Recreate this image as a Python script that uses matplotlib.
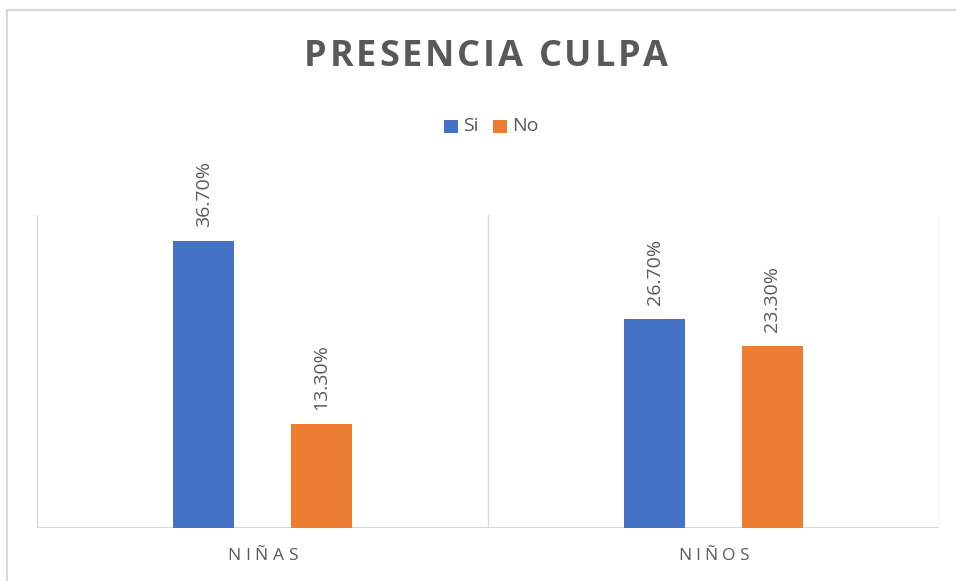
import matplotlib
matplotlib.use("Agg")
import matplotlib.pyplot as plt
from matplotlib.patches import Rectangle
from matplotlib.lines import Line2D
import numpy as np

categories = ["NIÑAS", "NIÑOS"]
series_names = ["Si", "No"]
si_values = [36.7, 26.7]
no_values = [13.3, 23.3]

BLUE = "#4472C4"
ORANGE = "#ED7D31"
GRAY_TEXT = "#595959"
GRID = "#D9D9D9"

W, H = 956, 581
plt.rcParams['font.family'] = ['Open Sans', 'DejaVu Sans']

fig = plt.figure(figsize=(W / 100, H / 100), dpi=100)
ax = fig.add_axes([37 / W, 1 - 528 / H, (939 - 37) / W, (528 - 215) / H])
renderer = fig.canvas.get_renderer()


def spaced_text(s, x_center, y_center, target_width, **kw):
    # draw text letter by letter so it can be spread out like the original
    widths = []
    for ch in s:
        if ch == " ":
            widths.append(None)
            continue
        t = fig.text(0, 0, ch, **kw)
        widths.append(t.get_window_extent(renderer).width)
        t.remove()
    space_w = np.mean([w for w in widths if w is not None]) * 0.45
    widths = [space_w if w is None else w for w in widths]
    gap = (target_width - sum(widths)) / max(len(s) - 1, 1)
    x = x_center - target_width / 2
    for ch, w in zip(s, widths):
        if ch != " ":
            fig.text(x / W, 1 - y_center / H, ch, ha="left", va="center", **kw)
        x += w + gap


x = np.arange(len(categories))
bar_w = 0.135
offset = 0.13
bars_si = ax.bar(x - offset, si_values, bar_w, color=BLUE, label=series_names[0], zorder=3)
bars_no = ax.bar(x + offset, no_values, bar_w, color=ORANGE, label=series_names[1], zorder=3)

for bars, vals in [(bars_si, si_values), (bars_no, no_values)]:
    for b, v in zip(bars, vals):
        ax.annotate(f"{v:.2f}%", (b.get_x() + b.get_width() / 2, v),
                    xytext=(0, 10), textcoords="offset points",
                    rotation=90, ha="center", va="bottom",
                    color=GRAY_TEXT, fontsize=14)

ax.set_xlim(-0.5, len(categories) - 0.5)
ax.set_ylim(0, 40)
for xb in np.arange(-0.5, len(categories), 1.0):
    ax.axvline(xb, color=GRID, lw=1, zorder=1)
for s in ax.spines.values():
    s.set_visible(False)
ax.axhline(0, color=GRID, lw=1.5, zorder=2)
ax.set_xticks([])
ax.set_yticks([])

# category labels, spread out
cat_targets = [71, 71]
for i, cat in enumerate(categories):
    xc = ax.transData.transform((x[i], 0))[0]
    spaced_text(cat, xc, 556, cat_targets[i], color=GRAY_TEXT, fontsize=12.5)

spaced_text("PRESENCIA CULPA", 486, 57, 364, color=GRAY_TEXT, fontsize=26, fontweight="bold")

# legend drawn by hand: square + label
leg_items = [(444, series_names[0], BLUE), (493, series_names[1], ORANGE)]
for lx, name, col in leg_items:
    fig.add_artist(Rectangle((lx / W, 1 - 133 / H), 14 / W, 13 / H,
                             transform=fig.transFigure, color=col, lw=0))
    fig.text((lx + 19) / W, 1 - 126 / H, name, ha="left", va="center",
             color=GRAY_TEXT, fontsize=14)

# outer chart border (partially cropped)
fig.add_artist(Line2D([7 / W, 7 / W], [0, 1 - 10 / H], color=GRID, lw=1.5))
fig.add_artist(Line2D([7 / W, 1], [1 - 10 / H, 1 - 10 / H], color=GRID, lw=1.5))

fig.savefig("out.png", dpi=100, facecolor="white")
